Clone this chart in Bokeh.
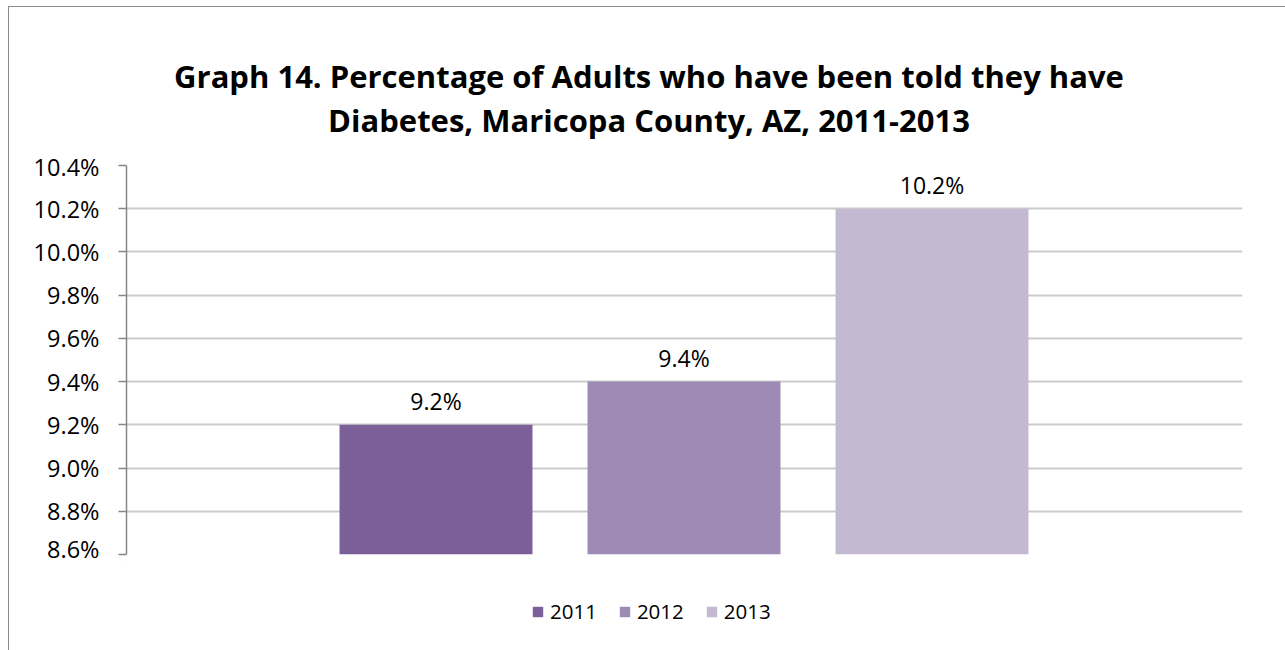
from bokeh.plotting import figure
from bokeh.layouts import column
from bokeh.models import Range1d, ColumnDataSource, PrintfTickFormatter, FixedTicker, Legend, LegendItem
from bokeh.core.properties import value
from bokeh.embed import file_html
from bokeh.resources import INLINE

years = ["2011", "2012", "2013"]
rates = [9.2, 9.4, 10.2]
colors = ["#7A5F98", "#9D8AB5", "#C3B9D0"]
y_ticks = [8.6, 8.8, 9.0, 9.2, 9.4, 9.6, 9.8, 10.0, 10.2, 10.4]
title_lines = ["Graph 14. Percentage of Adults who have been told they have",
               "Diabetes, Maricopa County, AZ, 2011-2013"]

FONT = "Open Sans"
W = 1276
BL, BR = 117, 43


def bare(height, x_range, y_range):
    f = figure(width=W, height=height, output_backend="svg", toolbar_location=None,
               x_range=x_range, y_range=y_range,
               x_axis_location=None, y_axis_location=None,
               min_border_left=BL, min_border_right=BR,
               min_border_top=0, min_border_bottom=0)
    f.grid.visible = False
    f.outline_line_color = None
    f.background_fill_color = "white"
    f.border_fill_color = "white"
    return f


# ---- title (x in page pixels across the shared frame) ----
pt = bare(143, Range1d(126, 1242), Range1d(0, 143))
pt.text(x=[648.5, 648.5], y=[75, 31], text=title_lines, text_align="center",
        text_baseline="alphabetic", text_font=value(FONT), text_font_style="bold",
        text_font_size="31px", text_color="#000000")

# ---- main chart ----
src = ColumnDataSource(dict(
    x=list(range(len(years))),
    top=rates,
    year=years,
    color=colors,
    label=[f"{v:.1f}%" for v in rates],
))

p = figure(width=W, height=414, output_backend="svg", toolbar_location=None,
           x_range=Range1d(-1.248, 3.252), y_range=Range1d(8.6, 10.4),
           x_axis_location=None, min_border_left=BL, min_border_right=BR,
           min_border_top=15, min_border_bottom=10)
p.outline_line_color = None
p.background_fill_color = "white"
p.border_fill_color = "white"

p.xgrid.visible = False
p.ygrid.grid_line_color = "#cccccc"
p.ygrid.grid_line_width = 2
p.ygrid.ticker = FixedTicker(ticks=y_ticks)

yax = p.yaxis[0]
yax.ticker = FixedTicker(ticks=y_ticks)
yax.formatter = PrintfTickFormatter(format="%.1f%%")
yax.axis_line_color = "#868686"
yax.axis_line_width = 1.5
yax.major_tick_line_color = "#868686"
yax.major_tick_line_width = 1.5
yax.major_tick_out = 8
yax.major_tick_in = 0
yax.minor_tick_line_color = None
yax.major_label_standoff = 19
yax.major_label_text_font = FONT
yax.major_label_text_font_size = "23.5px"
yax.major_label_text_color = "#000000"

p.vbar(x="x", top="top", bottom=8.6, width=0.778, fill_color="color",
       line_color=None, source=src)

p.text(x="x", y="top", text="label", source=src, y_offset=-8,
       text_align="center", text_baseline="bottom",
       text_font=value(FONT), text_font_size="23px", text_color="#000000")

# ---- legend (proxy bars lie far outside this strip's visible ranges) ----
pl = bare(86, Range1d(20, 21), Range1d(0, 1))
items = []
for i, (yr, c, v) in enumerate(zip(years, colors, rates)):
    r = pl.vbar(x=[i], top=[v], bottom=8.6, width=0.778, fill_color=c, line_color=None)
    items.append(LegendItem(label=yr, renderers=[r]))
legend = Legend(items=items, orientation="horizontal", location=(405, 25),
                glyph_width=13, glyph_height=13, label_standoff=6, spacing=21,
                label_text_font=FONT, label_text_font_size="20.5px",
                label_text_color="#000000", border_line_color=None,
                background_fill_alpha=0, padding=0, margin=0)
pl.add_layout(legend, "center")

layout = column(pt, p, pl, spacing=0)
layout.styles = {"margin-left": "8px", "margin-top": "6px",
                 "border-left": "1px solid #8a8a8a", "border-top": "1px solid #8a8a8a"}

open("out.html", "w").write(file_html(layout, INLINE))
